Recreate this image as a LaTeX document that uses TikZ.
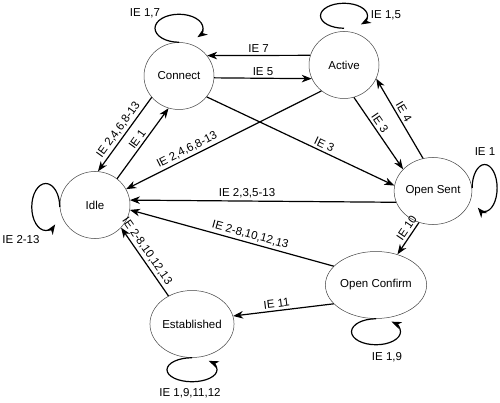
\documentclass[tikz,border=0pt]{standalone}
\usepackage{fontspec}
\setmainfont{Liberation Sans}
\usetikzlibrary{arrows.meta,shapes.geometric}
\begin{document}
\begin{tikzpicture}[x=1pt,y=1pt,
  every node/.style={font=\fontsize{11.5}{13}\selectfont},
  state/.style={ellipse,draw=black!75,line width=0.5pt,minimum width=70pt,minimum height=67pt,inner sep=0pt},
  trans/.style={line width=1.2pt,-{Stealth[length=10pt,width=7.5pt,inset=3pt]}},
  lab/.style={inner sep=2.5pt},
  looplab/.style={inner sep=0pt}]
\useasboundingbox (0,0) rectangle (500,402);
\node[state] (con) at (179,326) {Connect};
\node[state] (act) at (344,337) {Active};
\node[state] (idle) at (95,197) {Idle};
\node[state] (sent) at (433,211) {Open Sent};
\node[state,minimum width=72pt] (conf) at (376,117) {Open Confirm};
\node[state] (est) at (192,78) {Established};
% self loops
\draw[trans] (con.north) arc[start angle=270,end angle=-40,x radius=24,y radius=14];
\draw[trans] ([yshift=3pt]act.north) arc[start angle=270,end angle=-44,x radius=23.5,y radius=12.5];
\draw[trans] ([yshift=-2pt]idle.west) arc[start angle=0,end angle=312,x radius=14,y radius=23.5];
\draw[trans] ([yshift=3pt]sent.east) arc[start angle=180,end angle=-123,x radius=12.5,y radius=23.5];
\draw[trans] (conf.south) arc[start angle=90,end angle=411,x radius=24.5,y radius=13];
\draw[trans] (est.south) arc[start angle=90,end angle=408,x radius=25,y radius=12];
\node[looplab] (l1) at (145,389) {IE 1,7};
\node[looplab] (l2) at (386,387) {IE 1,5};
\node[looplab] (l3) at (21,162) {IE 2-13};
\node[looplab] (l4) at (485,250) {IE 1};
\node[looplab] (l5) at (387,45) {IE 1,9};
\node[looplab] (l6) at (190,9) {IE 1,9,11,12};
% transitions
\draw[trans] (act.164.7) -- node[lab,above] {IE 7} (con.36.5);
\draw[trans] (con.-3) -- node[lab,above] {IE 5} (act.203);
\draw[trans] (con.218) -- node[lab,above,sloped] {IE 2,4,6,8-13} (idle.85);
\draw[trans] (idle.50) -- node[lab,above,sloped] {IE 1} (con.252);
\draw[trans] (act.229) -- node[lab,above,sloped,pos=0.67] {IE 2,4,6,8-13} (idle.27);
\draw[trans] (con.-37) -- node[lab,above,sloped,pos=0.61] {IE 3} (sent.172);
\draw[trans] (act.-73) -- node[lab,above,sloped,pos=0.41] {IE 3} (sent.144);
\draw[trans] (sent.107) -- node[lab,above,sloped,pos=0.54] {IE 4} (act.-23);
\draw[trans] (sent.197) -- node[lab,above,pos=0.56] {IE 2,3,5-13} (idle.8);
\draw[trans] (conf.156) -- node[lab,above,sloped,pos=0.42] {IE 2-8,10,12,13} (idle.-8);
\draw[trans] (est.130) -- node[lab,above,sloped,pos=0.59] {IE 2-8,10,12,13} (idle.-41);
\draw[trans] (sent.246) -- node[lab,above,sloped,pos=0.3] {IE 10} (conf.55);
\draw[trans] (conf.204) -- node[lab,above,sloped,pos=0.56] {IE 11} (est.11);
\end{tikzpicture}
\end{document}
